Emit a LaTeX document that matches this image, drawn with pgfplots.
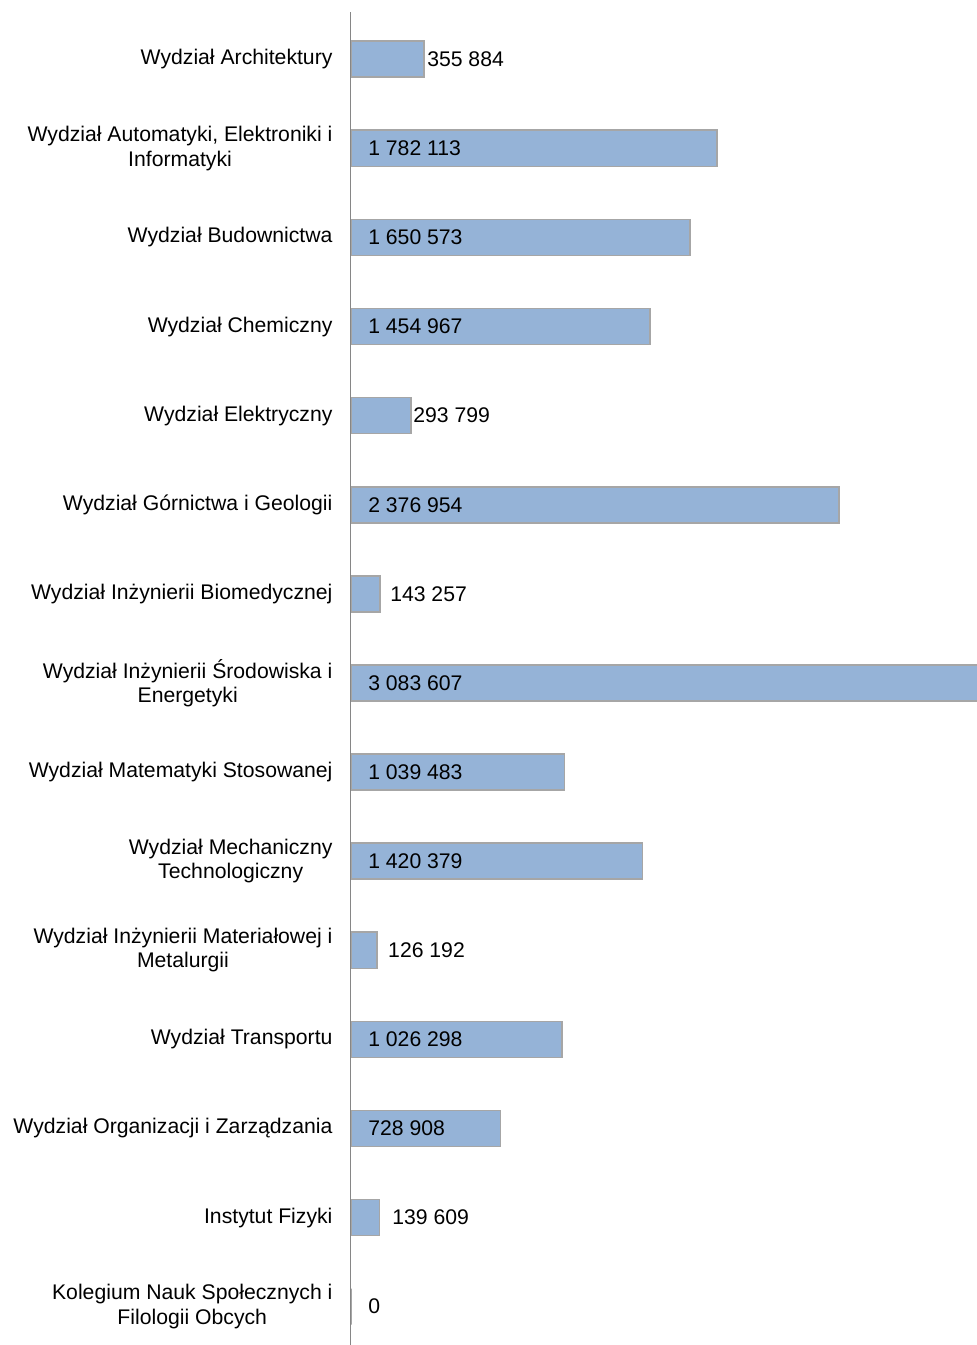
\documentclass[border=0pt]{standalone}
\usepackage{fontspec}
\setmainfont{Liberation Sans}
\usepackage{pgfplots}
\pgfplotsset{compat=1.18}
\definecolor{barfill}{RGB}{149,179,215}
\definecolor{barline}{RGB}{166,166,166}
\definecolor{axisgray}{RGB}{134,134,134}
\begin{document}
\begin{tikzpicture}
\begin{axis}[
  scale only axis, width=314pt, height=666.8pt,
  xmin=0, xmax=3055000, ymin=-0.53, ymax=14.43, y dir=reverse,
  axis x line=none, axis y line*=left,
  y axis line style={draw=axisgray, line width=0.6pt},
  xtick=\empty, scaled x ticks=false,
  ytick={0,...,14}, major tick length=0pt,
  yticklabels={
    {Wydział Architektury},
    {Wydział Automatyki, Elektroniki i\\Informatyki},
    {Wydział Budownictwa},
    {Wydział Chemiczny},
    {Wydział Elektryczny},
    {Wydział Górnictwa i Geologii},
    {Wydział Inżynierii Biomedycznej},
    {Wydział Inżynierii Środowiska i\\Energetyki},
    {Wydział Matematyki Stosowanej},
    {Wydział Mechaniczny\\Technologiczny},
    {Wydział Inżynierii Materiałowej i\\Metalurgii},
    {Wydział Transportu},
    {Wydział Organizacji i Zarządzania},
    {Instytut Fizyki},
    {Kolegium Nauk Społecznych i\\Filologii Obcych}},
  yticklabel style={align=center, inner sep=0pt, xshift=-9pt,
    font=\fontsize{10.6}{12.2}\selectfont},
  clip=true,
  axis on top,
]
% bar values
\addplot[xbar, bar width=0.405, fill=barfill, draw=barline, line width=0.8pt]
  coordinates {
  (355884,0) (1782113,1) (1650573,2) (1454967,3) (293799,4)
  (2376954,5) (143257,6) (3083607,7) (1039483,8) (1420379,9)
  (126192,10) (1026298,11) (728908,12) (139609,13) (0,14)
};
% data labels (Excel style: at base if they fit, else after the bar)
\addplot[draw=none, mark=none, nodes near coords, point meta=explicit symbolic,
  every node near coord/.append style={anchor=west, inner sep=0pt,
    font=\fontsize{10.6}{12.2}\selectfont}]
  coordinates {
  (370000,0) [355 884]
  (83000,1) [1 782 113]
  (83000,2) [1 650 573]
  (83000,3) [1 454 967]
  (302000,4) [293 799]
  (83000,5) [2 376 954]
  (190000,6) [143 257]
  (83000,7) [3 083 607]
  (83000,8) [1 039 483]
  (83000,9) [1 420 379]
  (180000,10) [126 192]
  (83000,11) [1 026 298]
  (83000,12) [728 908]
  (200000,13) [139 609]
  (83000,14) [0]
};
\end{axis}
\pgfresetboundingbox
\path[use as bounding box] ([xshift=-175.5pt]current axis.south west)
  rectangle ([xshift=-1pt,yshift=6pt]current axis.north east);
\end{tikzpicture}
\end{document}
